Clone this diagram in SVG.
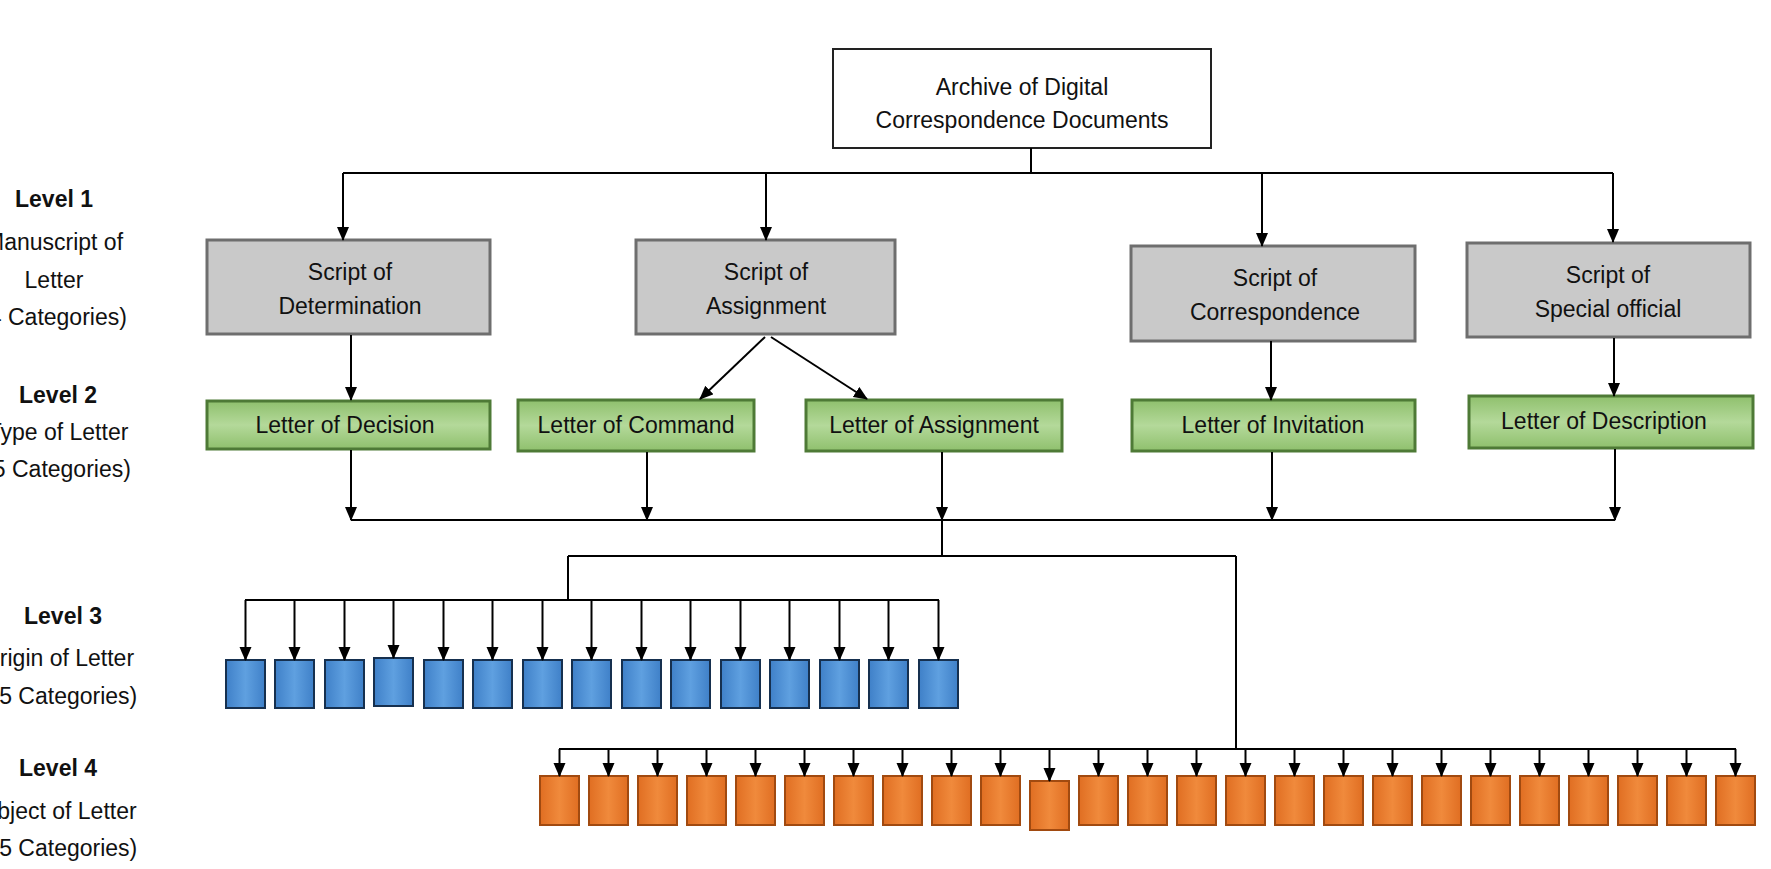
<svg xmlns="http://www.w3.org/2000/svg" width="1771" height="869" viewBox="0 0 1771 869">
<defs>
<marker id="ah" markerUnits="userSpaceOnUse" markerWidth="14" markerHeight="16" refX="13" refY="6" orient="auto"><path d="M0,0 L14,6 L0,12 Z" fill="#000"/></marker>
<linearGradient id="gg" x1="0" y1="0" x2="0" y2="1"><stop offset="0" stop-color="#8fc06d"/><stop offset="0.5" stop-color="#b4d99a"/><stop offset="1" stop-color="#8fc06d"/></linearGradient>
<linearGradient id="gb" x1="0" y1="0" x2="1" y2="0"><stop offset="0" stop-color="#3f80c8"/><stop offset="0.5" stop-color="#5fa0e0"/><stop offset="1" stop-color="#3f80c8"/></linearGradient>
<linearGradient id="go" x1="0" y1="0" x2="1" y2="0"><stop offset="0" stop-color="#e06e22"/><stop offset="0.5" stop-color="#f08a3c"/><stop offset="1" stop-color="#e06e22"/></linearGradient>
</defs>
<style>
text{font-family:"Liberation Sans",Arial,sans-serif;fill:#111;text-anchor:middle}
.lv{font-size:23px;font-weight:bold}
.lb{font-size:23px}
.t{font-size:23px}
.top{fill:#fff;stroke:#222;stroke-width:2}
.gray{fill:#c9c9c9;stroke:#6e6e6e;stroke-width:3}
.green{fill:url(#gg);stroke:#4e7a36;stroke-width:3}
.blue{fill:url(#gb);stroke:#16304f;stroke-width:2}
.orange{fill:url(#go);stroke:#a14a10;stroke-width:2}
.c line,.c path{stroke:#000;stroke-width:2;fill:none}
.a{marker-end:url(#ah)}
</style>
<rect width="1771" height="869" fill="#fff"/>
<g id="labels">
<text class="lv" x="54" y="207">Level 1</text>
<text class="lb" x="54" y="250">Manuscript of</text>
<text class="lb" x="54" y="288">Letter</text>
<text class="lb" x="54" y="325">(4 Categories)</text>
<text class="lv" x="58" y="403">Level 2</text>
<text class="lb" x="58" y="440">Type of Letter</text>
<text class="lb" x="58" y="477">(5 Categories)</text>
<text class="lv" x="63" y="624">Level 3</text>
<text class="lb" x="58" y="666">Origin of Letter</text>
<text class="lb" x="58" y="704">(15 Categories)</text>
<text class="lv" x="58" y="776">Level 4</text>
<text class="lb" x="58" y="819">Object of Letter</text>
<text class="lb" x="58" y="856">(25 Categories)</text>
</g>
<g id="root"><rect class="top" x="833" y="49" width="378" height="99"/><text class="t" x="1022" y="95">Archive of  Digital</text><text class="t" x="1022" y="128">Correspondence Documents</text></g>
<g id="s1"><rect class="gray" x="207" y="240" width="283" height="94"/><text class="t" x="350" y="280">Script of</text><text class="t" x="350" y="314">Determination</text></g>
<g id="s2"><rect class="gray" x="636" y="240" width="259" height="94"/><text class="t" x="766" y="280">Script of</text><text class="t" x="766" y="314">Assignment</text></g>
<g id="s3"><rect class="gray" x="1131" y="246" width="284" height="95"/><text class="t" x="1275" y="286">Script of</text><text class="t" x="1275" y="320">Correspondence</text></g>
<g id="s4"><rect class="gray" x="1467" y="243" width="283" height="94"/><text class="t" x="1608" y="283">Script of</text><text class="t" x="1608" y="317">Special official</text></g>
<g id="l1"><rect class="green" x="207" y="401" width="283" height="48"/><text class="t" x="345" y="433">Letter of Decision</text></g>
<g id="l2"><rect class="green" x="518" y="400" width="236" height="51"/><text class="t" x="636" y="433">Letter of Command</text></g>
<g id="l3"><rect class="green" x="806" y="400" width="256" height="51"/><text class="t" x="934" y="433">Letter of Assignment</text></g>
<g id="l4"><rect class="green" x="1132" y="400" width="283" height="51"/><text class="t" x="1273" y="433">Letter of Invitation</text></g>
<g id="l5"><rect class="green" x="1469" y="396" width="284" height="52"/><text class="t" x="1604" y="429">Letter of Description</text></g>
<g id="origin">
<rect class="blue" x="226" y="660" width="39" height="48"/><rect class="blue" x="275" y="660" width="39" height="48"/><rect class="blue" x="325" y="660" width="39" height="48"/><rect class="blue" x="374" y="658" width="39" height="48"/><rect class="blue" x="424" y="660" width="39" height="48"/><rect class="blue" x="473" y="660" width="39" height="48"/><rect class="blue" x="523" y="660" width="39" height="48"/><rect class="blue" x="572" y="660" width="39" height="48"/><rect class="blue" x="622" y="660" width="39" height="48"/><rect class="blue" x="671" y="660" width="39" height="48"/><rect class="blue" x="721" y="660" width="39" height="48"/><rect class="blue" x="770" y="660" width="39" height="48"/><rect class="blue" x="820" y="660" width="39" height="48"/><rect class="blue" x="869" y="660" width="39" height="48"/><rect class="blue" x="919" y="660" width="39" height="48"/>
</g>
<g id="object">
<rect class="orange" x="540" y="776" width="39" height="49"/><rect class="orange" x="589" y="776" width="39" height="49"/><rect class="orange" x="638" y="776" width="39" height="49"/><rect class="orange" x="687" y="776" width="39" height="49"/><rect class="orange" x="736" y="776" width="39" height="49"/><rect class="orange" x="785" y="776" width="39" height="49"/><rect class="orange" x="834" y="776" width="39" height="49"/><rect class="orange" x="883" y="776" width="39" height="49"/><rect class="orange" x="932" y="776" width="39" height="49"/><rect class="orange" x="981" y="776" width="39" height="49"/><rect class="orange" x="1030" y="781" width="39" height="49"/><rect class="orange" x="1079" y="776" width="39" height="49"/><rect class="orange" x="1128" y="776" width="39" height="49"/><rect class="orange" x="1177" y="776" width="39" height="49"/><rect class="orange" x="1226" y="776" width="39" height="49"/><rect class="orange" x="1275" y="776" width="39" height="49"/><rect class="orange" x="1324" y="776" width="39" height="49"/><rect class="orange" x="1373" y="776" width="39" height="49"/><rect class="orange" x="1422" y="776" width="39" height="49"/><rect class="orange" x="1471" y="776" width="39" height="49"/><rect class="orange" x="1520" y="776" width="39" height="49"/><rect class="orange" x="1569" y="776" width="39" height="49"/><rect class="orange" x="1618" y="776" width="39" height="49"/><rect class="orange" x="1667" y="776" width="39" height="49"/><rect class="orange" x="1716" y="776" width="39" height="49"/>
</g>
<g id="connectors" class="c">
<line x1="1031" y1="148" x2="1031" y2="173"/>
<line x1="343" y1="173" x2="1613" y2="173"/>
<line class="a" x1="343" y1="173" x2="343" y2="240"/>
<line class="a" x1="766" y1="173" x2="766" y2="240"/>
<line class="a" x1="1262" y1="173" x2="1262" y2="246"/>
<line class="a" x1="1613" y1="173" x2="1613" y2="242"/>
<line class="a" x1="351" y1="335" x2="351" y2="400"/>
<line class="a" x1="765" y1="337" x2="700" y2="399"/>
<line class="a" x1="771" y1="337" x2="867" y2="399"/>
<line class="a" x1="1271" y1="341" x2="1271" y2="400"/>
<line class="a" x1="1614" y1="338" x2="1614" y2="396"/>
<line class="a" x1="351" y1="450" x2="351" y2="520"/>
<line class="a" x1="647" y1="452" x2="647" y2="520"/>
<line class="a" x1="942" y1="452" x2="942" y2="520"/>
<line class="a" x1="1272" y1="452" x2="1272" y2="520"/>
<line class="a" x1="1615" y1="449" x2="1615" y2="520"/>
<line x1="351" y1="520" x2="1615" y2="520"/>
<line x1="942" y1="520" x2="942" y2="556"/>
<line x1="568" y1="556" x2="1236" y2="556"/>
<line x1="568" y1="556" x2="568" y2="600"/>
<line x1="245" y1="600" x2="939" y2="600"/>
<path class="a" d="M245.5,600V660"/><path class="a" d="M294.5,600V660"/><path class="a" d="M344.5,600V660"/><path class="a" d="M393.5,600V658"/><path class="a" d="M443.5,600V660"/><path class="a" d="M492.5,600V660"/><path class="a" d="M542.5,600V660"/><path class="a" d="M591.5,600V660"/><path class="a" d="M641.5,600V660"/><path class="a" d="M690.5,600V660"/><path class="a" d="M740.5,600V660"/><path class="a" d="M789.5,600V660"/><path class="a" d="M839.5,600V660"/><path class="a" d="M888.5,600V660"/><path class="a" d="M938.5,600V660"/>
<line x1="1236" y1="556" x2="1236" y2="749"/>
<line x1="559" y1="749" x2="1736" y2="749"/>
<path class="a" d="M559.5,749V776"/><path class="a" d="M608.5,749V776"/><path class="a" d="M657.5,749V776"/><path class="a" d="M706.5,749V776"/><path class="a" d="M755.5,749V776"/><path class="a" d="M804.5,749V776"/><path class="a" d="M853.5,749V776"/><path class="a" d="M902.5,749V776"/><path class="a" d="M951.5,749V776"/><path class="a" d="M1000.5,749V776"/><path class="a" d="M1049.5,749V781"/><path class="a" d="M1098.5,749V776"/><path class="a" d="M1147.5,749V776"/><path class="a" d="M1196.5,749V776"/><path class="a" d="M1245.5,749V776"/><path class="a" d="M1294.5,749V776"/><path class="a" d="M1343.5,749V776"/><path class="a" d="M1392.5,749V776"/><path class="a" d="M1441.5,749V776"/><path class="a" d="M1490.5,749V776"/><path class="a" d="M1539.5,749V776"/><path class="a" d="M1588.5,749V776"/><path class="a" d="M1637.5,749V776"/><path class="a" d="M1686.5,749V776"/><path class="a" d="M1735.5,749V776"/>
</g>
</svg>
